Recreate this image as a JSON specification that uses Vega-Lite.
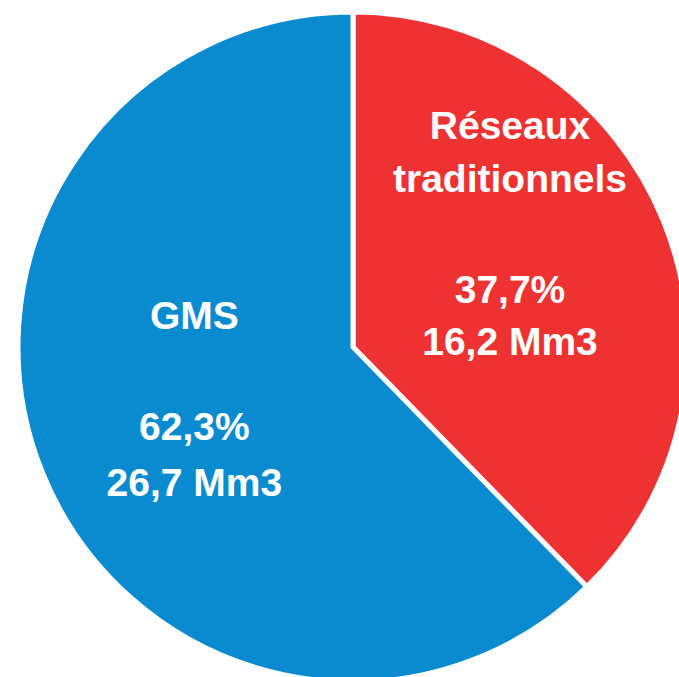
{
  "$schema": "https://vega.github.io/schema/vega-lite/v6.json",
  "width": 652,
  "height": 660,
  "autosize": "none",
  "padding": {"left": 27, "top": 17, "right": 0, "bottom": 0},
  "background": "white",
  "config": {"view": {"stroke": null}, "text": {"lineBreak": "\n", "font": "Liberation Sans", "fontWeight": "bold", "fontSize": 39, "color": "white", "align": "center", "baseline": "middle"}},
  "data": {
    "values": [
      {"categorie": "Réseaux traditionnels", "part": 37.7, "volume": 16.2, "nom": "Réseaux\ntraditionnels", "valeurs": "37,7%\n16,2 Mm3"},
      {"categorie": "GMS", "part": 62.3, "volume": 26.7, "nom": "GMS", "valeurs": "62,3%\n26,7 Mm3"}
    ]
  },
  "encoding": {
    "theta": {"field": "part", "type": "quantitative", "stack": true},
    "order": {"field": "categorie", "sort": "descending"}
  },
  "layer": [
    {
      "mark": {"type": "arc", "outerRadius": 335, "stroke": "white", "strokeWidth": 5},
      "encoding": {
        "color": {
          "field": "categorie",
          "type": "nominal",
          "scale": {"domain": ["Réseaux traditionnels", "GMS"], "range": ["#EE3232", "#0A8BCF"]},
          "legend": null
        }
      }
    },
    {
      "mark": {"type": "text", "radius": 168, "dx": -3, "dy": -93},
      "encoding": {"text": {"condition": {"test": "datum.categorie === 'GMS'", "field": "nom"}, "value": ""}}
    },
    {
      "mark": {"type": "text", "radius": 168, "dx": -3, "dy": 18, "lineHeight": 55.5},
      "encoding": {"text": {"condition": {"test": "datum.categorie === 'GMS'", "field": "valeurs"}, "value": ""}}
    },
    {
      "mark": {"type": "text", "radius": 190, "dx": -19, "dy": -148, "lineHeight": 53},
      "encoding": {"text": {"condition": {"test": "datum.categorie !== 'GMS'", "field": "nom"}, "value": ""}}
    },
    {
      "mark": {"type": "text", "radius": 190, "dx": -19, "dy": 16, "lineHeight": 52},
      "encoding": {"text": {"condition": {"test": "datum.categorie !== 'GMS'", "field": "valeurs"}, "value": ""}}
    }
  ]
}
